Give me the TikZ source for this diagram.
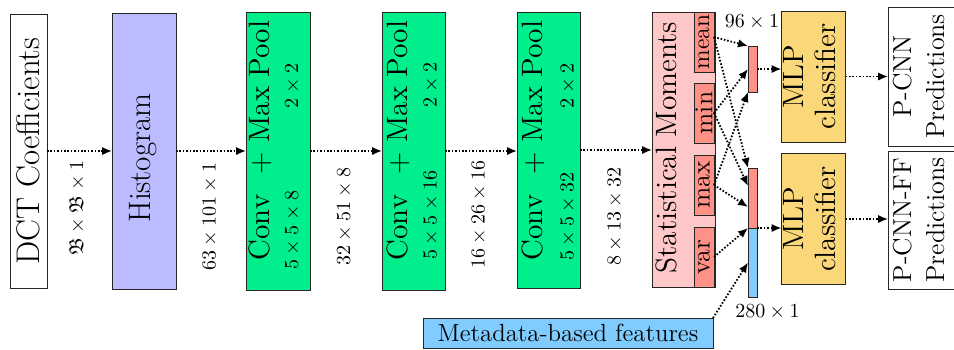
\documentclass[tikz,border=0pt]{standalone}
\usepackage{amssymb}
\usepackage{graphicx}
\usepackage{fontspec}
\usetikzlibrary{arrows.meta}

\definecolor{histfill}{RGB}{187,187,255}
\definecolor{convfill}{RGB}{0,238,140}
\definecolor{momfill}{RGB}{255,200,200}
\definecolor{subfill}{RGB}{255,145,135}
\definecolor{metafill}{RGB}{128,204,255}
\definecolor{mlpfill}{RGB}{250,216,122}

\begin{document}
\begin{tikzpicture}[x=0.5pt,y=-0.5pt,
  blk/.style={draw=black!85, line width=0.5pt, inner sep=0pt, outer sep=0pt},
  sz/.style 2 args={minimum width=#1*0.5pt, minimum height=#2*0.5pt},
  flow/.style={line width=0.9pt, dash pattern=on 0.8pt off 0.9pt,
               -{Latex[length=5pt,width=4.2pt]}},
  bigtxt/.style={font=\fontsize{14.7}{16}\selectfont},
  vlab/.style={rotate=90, inner sep=0pt}
]
\useasboundingbox (0,0) rectangle (954,349);

% input and histogram
\node[blk, sz={37}{274}, fill=white] (dct) at (28.5,151)
  {\rotatebox{90}{\fontsize{16.4}{19}\selectfont DCT Coefficients}};
\node[blk, sz={64}{276}, fill=histfill] (hist) at (144,151) {};
\node[vlab, font=\fontsize{15.5}{18}\selectfont] (histtxt) at (143,158) {Histogram};

% convolution blocks
\node[blk, sz={64}{278}, fill=convfill] (conv1) at (278,151) {};
\node[blk, sz={63}{278}, fill=convfill] (conv2) at (413.5,151) {};
\node[blk, sz={63}{276}, fill=convfill] (conv3) at (548.5,150) {};

\node[vlab, bigtxt] (c1txt) at (260,140.5) {Conv\hspace{0.35em} + Max Pool};
\node[vlab] (c1k) at (292.5,230) {$5\times5\times8$};
\node[vlab] (c1p) at (292.5,86) {$2\times2$};

\node[vlab, bigtxt] (c2txt) at (398,140.5) {Conv\hspace{0.35em} + Max Pool};
\node[vlab] (c2k) at (431,215) {$5\times5\times16$};
\node[vlab] (c2p) at (431,85) {$2\times2$};

\node[vlab, bigtxt] (c3txt) at (533,140.5) {Conv\hspace{0.35em} + Max Pool};
\node[vlab] (c3k) at (568,216.5) {$5\times5\times32$};
\node[vlab] (c3p) at (568,86) {$2\times2$};

% statistical moments
\node[blk, sz={63}{275}, fill=momfill] (stat) at (683.5,150) {};
\node[vlab, bigtxt] (stattxt) at (666,147.5) {Statistical Moments};
\node[blk, sz={20}{60}, fill=subfill] (mean) at (704,42)
  {\rotatebox{90}{\fontsize{12}{14}\selectfont mean}};
\node[blk, sz={20}{60}, fill=subfill] (min) at (704,113)
  {\rotatebox{90}{\fontsize{13}{15}\selectfont min}};
\node[blk, sz={20}{60}, fill=subfill] (max) at (704,185)
  {\rotatebox{90}{\fontsize{13}{15}\selectfont max}};
\node[blk, sz={20}{60}, fill=subfill] (var) at (704,257)
  {\rotatebox{90}{\fontsize{13}{15}\selectfont var}};

% feature vectors
\node[blk, sz={9}{46}, fill=subfill] (topbar) at (752.5,69) {};
\node[blk, sz={9}{60}, fill=subfill] (redbar) at (752.5,198) {};
\node[blk, sz={9}{69}, fill=metafill] (bluebar) at (752.5,262.5) {};
\node (dimA) at (752,22) {$96\times1$};
\node (dimB) at (767.5,311.5) {$280\times1$};

\node[blk, sz={290}{30}, fill=metafill, font=\fontsize{12.4}{14}\selectfont]
  (meta) at (568,333) {Metadata-based features};

% classifiers and outputs
\node[blk, sz={63}{131}, fill=mlpfill, bigtxt] (mlp1) at (813.5,76.5)
  {\rotatebox{90}{\begin{tabular}{@{}c@{}}MLP\\classifier\end{tabular}}};
\node[blk, sz={63}{131}, fill=mlpfill, bigtxt] (mlp2) at (813.5,219)
  {\rotatebox{90}{\begin{tabular}{@{}c@{}}MLP\\classifier\end{tabular}}};
\node[blk, sz={64}{139}, fill=white, font=\fontsize{13}{16.5}\selectfont] (pred1) at (921,76.5)
  {\rotatebox{90}{\begin{tabular}{@{}c@{}}P-CNN\\Predictions\end{tabular}}};
\node[blk, sz={64}{138}, fill=white, font=\fontsize{13}{16.5}\selectfont] (pred2) at (921,220)
  {\rotatebox{90}{\begin{tabular}{@{}c@{}}P-CNN-FF\\Predictions\end{tabular}}};

% tensor sizes between stages
\node[vlab] (s1) at (77,208) {$\mathfrak{B}\times\mathfrak{B}\times1$};
\node[vlab] (s2) at (210,216.5) {$63\times101\times1$};
\node[vlab] (s3) at (344.5,216.5) {$32\times51\times8$};
\node[vlab] (s4) at (479,214.5) {$16\times26\times16$};
\node[vlab] (s5) at (615,216.5) {$8\times13\times32$};

% main pipeline
\draw[flow] (dct.east) -- (dct.east -| hist.west);
\draw[flow] (hist.east) -- (hist.east -| conv1.west);
\draw[flow] (conv1.east) -- (conv1.east -| conv2.west);
\draw[flow] (conv2.east) -- (conv2.east -| conv3.west);
\draw[flow] (conv3.east) -- (conv3.east -| stat.west);

% moments to feature vectors
\draw[flow] ([yshift=2.5pt]mean.east) -- (topbar.north west);
\draw[flow] ([yshift=2.5pt]mean.east) -- (redbar.north west);
\draw[flow] (min.east) -- (topbar.west);
\draw[flow] (min.east) -- ([yshift=6pt]redbar.west);
\draw[flow] (max.east) -- (topbar.south west);
\draw[flow] (max.east) -- ([yshift=-4.5pt]redbar.west);
\draw[flow] (var.east) -- (redbar.south west);
\draw[flow] (meta.north east) -- (bluebar.west);

% classifiers
\draw[flow] (topbar.east) -- (topbar.east -| mlp1.west);
\draw[flow] (redbar.south east) -- (redbar.south east -| mlp2.west);
\draw[flow] (mlp1.east) -- (mlp1.east -| pred1.west);
\draw[flow] (mlp2.east) -- (mlp2.east -| pred2.west);
\end{tikzpicture}
\end{document}
